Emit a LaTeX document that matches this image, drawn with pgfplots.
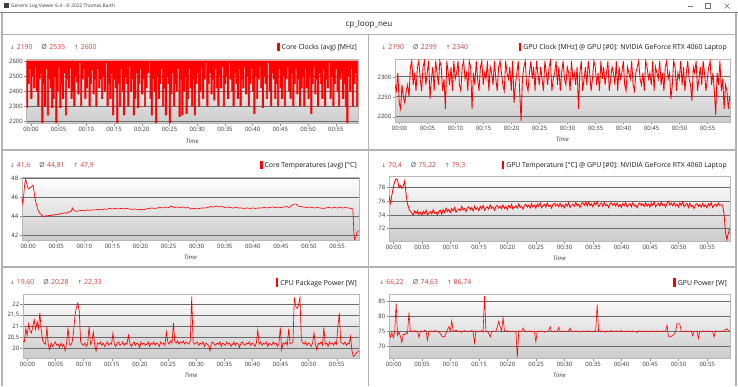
\documentclass[border=0pt]{standalone}
\usepackage{pgfplots}
\pgfplotsset{compat=1.18}
\usepackage{pgfplotstable}
\usepackage{fontspec}
\setmainfont{Open Sans}
\newfontfamily\sym{DejaVu Sans}
\definecolor{statred}{RGB}{214,58,58}
\definecolor{statgray}{RGB}{85,85,85}
\definecolor{sepgray}{RGB}{178,178,178}
\definecolor{plotred}{RGB}{255,0,0}

\newcommand{\st}[3]{{\sym\fontsize{5.5}{7}\selectfont\textcolor{statgray}{↓}}\hspace{2pt}\textcolor{statred}{#1}\hspace{9pt}\textcolor{statgray}{Ø}\hspace{2.5pt}\textcolor{statred}{#2}\hspace{9pt}{\sym\fontsize{5.5}{7}\selectfont\textcolor{statgray}{↑}}\hspace{2pt}\textcolor{statred}{#3}}
\newcommand{\lgd}[1]{\textcolor{plotred}{\rule[-1.8pt]{2.6pt}{8.6pt}}\hspace{2pt}#1}

\pgfplotsset{
 ser/.style={color=plotred, draw=plotred, line width=0.55pt, mark=none},
 panel/.style={
  scale only axis, anchor=north west,
  axis background/.style={shade, top color=white, bottom color=black!20},
  axis line style={draw=black!28, line width=0.6pt},
  ymajorgrids, grid style={draw=black!58, line width=0.9pt},
  xmin=-0.8, xmax=59,
  xtick={0,5,...,55},
  xticklabels={00:00,00:05,00:10,00:15,00:20,00:25,00:30,00:35,00:40,00:45,00:50,00:55},
  tick align=outside, tick pos=left, major tick length=2.5pt,
  tick style={draw=black!45, line width=0.5pt},
  ticklabel style={font=\fontsize{6}{7}\selectfont, text=black!80},
  xticklabel style={inner sep=1pt},
  yticklabel style={inner sep=1pt},
  xlabel={Time},
  xlabel style={font=\fontsize{6}{7}\selectfont\itshape, text=black!80, at={(axis description cs:0.5,0)}, anchor=north, yshift=-12pt},
 }
}

% core clock: lowest reading within each 15 s interval
\pgfplotstableread[row sep=\\]{
y\\
2290\\ 2450\\ 2550\\ 2350\\ 2500\\ 2420\\ 2560\\ 2400\\ 2300\\ 2480\\
2520\\ 2190\\ 2450\\ 2300\\ 2550\\ 2240\\ 2480\\ 2420\\ 2290\\ 2350\\
2500\\ 2190\\ 2400\\ 2560\\ 2290\\ 2450\\ 2350\\ 2520\\ 2240\\ 2480\\
2420\\ 2550\\ 2350\\ 2400\\ 2300\\ 2500\\ 2460\\ 2380\\ 2590\\ 2300\\
2480\\ 2550\\ 2350\\ 2420\\ 2500\\ 2300\\ 2450\\ 2540\\ 2380\\ 2480\\
2300\\ 2550\\ 2420\\ 2480\\ 2350\\ 2500\\ 2400\\ 2590\\ 2300\\ 2450\\
2350\\ 2520\\ 2240\\ 2480\\ 2420\\ 2190\\ 2450\\ 2300\\ 2550\\ 2400\\
2240\\ 2500\\ 2450\\ 2300\\ 2560\\ 2400\\ 2480\\ 2240\\ 2350\\ 2520\\
2290\\ 2450\\ 2550\\ 2380\\ 2480\\ 2300\\ 2420\\ 2520\\ 2590\\ 2350\\
2240\\ 2480\\ 2400\\ 2190\\ 2500\\ 2350\\ 2450\\ 2550\\ 2300\\ 2420\\
2240\\ 2500\\ 2450\\ 2190\\ 2380\\ 2520\\ 2300\\ 2450\\ 2400\\ 2550\\
2230\\ 2480\\ 2240\\ 2400\\ 2500\\ 2250\\ 2350\\ 2550\\ 2420\\ 2300\\
2480\\ 2240\\ 2450\\ 2520\\ 2300\\ 2400\\ 2560\\ 2350\\ 2480\\ 2590\\
2300\\ 2450\\ 2520\\ 2380\\ 2480\\ 2340\\ 2550\\ 2420\\ 2300\\ 2500\\
2420\\ 2560\\ 2300\\ 2450\\ 2500\\ 2350\\ 2590\\ 2480\\ 2400\\ 2300\\
2520\\ 2450\\ 2350\\ 2550\\ 2300\\ 2480\\ 2420\\ 2560\\ 2380\\ 2500\\
2300\\ 2450\\ 2550\\ 2400\\ 2250\\ 2500\\ 2350\\ 2480\\ 2560\\ 2420\\
2290\\ 2500\\ 2450\\ 2350\\ 2590\\ 2400\\ 2300\\ 2520\\ 2480\\ 2350\\
2450\\ 2300\\ 2550\\ 2420\\ 2350\\ 2500\\ 2300\\ 2480\\ 2560\\ 2400\\
2350\\ 2520\\ 2300\\ 2450\\ 2550\\ 2380\\ 2480\\ 2300\\ 2420\\ 2500\\
2300\\ 2550\\ 2420\\ 2350\\ 2500\\ 2250\\ 2450\\ 2560\\ 2380\\ 2480\\
2300\\ 2520\\ 2450\\ 2350\\ 2550\\ 2300\\ 2480\\ 2420\\ 2590\\ 2350\\
2500\\ 2300\\ 2450\\ 2550\\ 2400\\ 2300\\ 2480\\ 2520\\ 2350\\ 2450\\
2300\\ 2190\\ 2500\\ 2400\\ 2550\\ 2300\\ 2450\\ 2520\\ 2300\\ 2480\\
}\coreclk

\pgfplotstableread[row sep=\\]{
y\\
2280\\ 2265\\ 2310\\ 2235\\ 2220\\ 2280\\ 2250\\ 2235\\ 2265\\ 2280\\
2250\\ 2325\\ 2340\\ 2280\\ 2310\\ 2265\\ 2325\\ 2340\\ 2295\\ 2265\\
2325\\ 2340\\ 2280\\ 2310\\ 2340\\ 2245\\ 2295\\ 2325\\ 2265\\ 2340\\
2310\\ 2280\\ 2340\\ 2325\\ 2265\\ 2295\\ 2220\\ 2340\\ 2310\\ 2280\\
2325\\ 2265\\ 2340\\ 2295\\ 2310\\ 2340\\ 2280\\ 2265\\ 2325\\ 2340\\
2295\\ 2310\\ 2265\\ 2340\\ 2325\\ 2220\\ 2310\\ 2280\\ 2340\\ 2295\\
2265\\ 2325\\ 2340\\ 2280\\ 2310\\ 2295\\ 2340\\ 2265\\ 2325\\ 2310\\
2280\\ 2340\\ 2295\\ 2265\\ 2325\\ 2340\\ 2310\\ 2280\\ 2265\\ 2340\\
2310\\ 2295\\ 2325\\ 2265\\ 2340\\ 2235\\ 2280\\ 2310\\ 2340\\ 2265\\
2190\\ 2295\\ 2325\\ 2340\\ 2280\\ 2265\\ 2310\\ 2340\\ 2295\\ 2325\\
2265\\ 2340\\ 2310\\ 2280\\ 2325\\ 2295\\ 2265\\ 2340\\ 2310\\ 2280\\
2325\\ 2340\\ 2265\\ 2295\\ 2310\\ 2340\\ 2280\\ 2325\\ 2265\\ 2310\\
2340\\ 2295\\ 2280\\ 2325\\ 2310\\ 2265\\ 2340\\ 2295\\ 2310\\ 2280\\
2325\\ 2220\\ 2310\\ 2340\\ 2265\\ 2295\\ 2325\\ 2280\\ 2340\\ 2310\\
2265\\ 2295\\ 2340\\ 2325\\ 2280\\ 2310\\ 2265\\ 2340\\ 2295\\ 2325\\
2280\\ 2310\\ 2340\\ 2265\\ 2295\\ 2325\\ 2310\\ 2280\\ 2340\\ 2265\\
2325\\ 2295\\ 2310\\ 2340\\ 2280\\ 2265\\ 2325\\ 2310\\ 2295\\ 2340\\
2280\\ 2265\\ 2310\\ 2325\\ 2340\\ 2295\\ 2280\\ 2310\\ 2265\\ 2340\\
2325\\ 2295\\ 2310\\ 2280\\ 2340\\ 2265\\ 2325\\ 2310\\ 2295\\ 2340\\
2280\\ 2310\\ 2265\\ 2325\\ 2340\\ 2295\\ 2310\\ 2245\\ 2280\\ 2340\\
2325\\ 2265\\ 2310\\ 2295\\ 2340\\ 2280\\ 2325\\ 2265\\ 2310\\ 2340\\
2295\\ 2280\\ 2240\\ 2325\\ 2310\\ 2340\\ 2265\\ 2295\\ 2325\\ 2280\\
2340\\ 2310\\ 2265\\ 2295\\ 2325\\ 2340\\ 2280\\ 2310\\ 2265\\ 2205\\
2310\\ 2280\\ 2340\\ 2265\\ 2295\\ 2220\\ 2280\\ 2265\\ 2220\\ 2250\\
}\gpuclk

\pgfplotstableread[row sep=\\]{
y\\
76.8\\ 75.7\\ 76.9\\ 78.0\\ 78.9\\ 79.3\\ 79.1\\ 78.0\\ 78.3\\ 77.9\\
78.2\\ 79.0\\ 77.0\\ 75.6\\ 74.9\\ 74.5\\ 74.3\\ 74.0\\ 74.6\\ 74.2\\
74.6\\ 74.1\\ 74.4\\ 73.95\\ 74.55\\ 74.2\\ 74.7\\ 74.0\\ 74.3\\ 74.5\\
74.15\\ 74.75\\ 74.25\\ 74.45\\ 74.0\\ 74.55\\ 74.7\\ 74.1\\ 74.8\\ 74.35\\
75.0\\ 74.5\\ 74.8\\ 74.35\\ 74.95\\ 74.6\\ 75.1\\ 74.4\\ 74.7\\ 74.9\\
74.65\\ 75.25\\ 74.75\\ 74.95\\ 74.5\\ 75.05\\ 75.2\\ 74.8\\ 75.1\\ 74.6\\
75.3\\ 74.8\\ 75.1\\ 74.65\\ 75.25\\ 74.9\\ 75.4\\ 74.7\\ 75.0\\ 75.2\\
74.85\\ 75.45\\ 74.95\\ 75.15\\ 74.7\\ 75.25\\ 75.4\\ 75.0\\ 75.3\\ 74.9\\
75.45\\ 74.95\\ 75.25\\ 74.8\\ 75.4\\ 75.05\\ 75.55\\ 74.85\\ 75.15\\ 75.35\\
75.0\\ 75.6\\ 75.1\\ 75.3\\ 74.85\\ 75.4\\ 75.55\\ 75.15\\ 75.45\\ 75.05\\
75.65\\ 75.15\\ 75.45\\ 75.0\\ 75.6\\ 75.25\\ 75.75\\ 75.05\\ 75.35\\ 75.55\\
75.15\\ 75.75\\ 75.25\\ 75.45\\ 75.0\\ 75.55\\ 75.7\\ 75.3\\ 75.6\\ 75.2\\
75.7\\ 75.2\\ 75.5\\ 75.05\\ 75.65\\ 75.3\\ 75.8\\ 75.1\\ 75.4\\ 75.6\\
75.25\\ 75.85\\ 75.35\\ 75.55\\ 75.1\\ 75.65\\ 75.8\\ 75.4\\ 75.9\\ 75.3\\
75.85\\ 75.35\\ 75.65\\ 75.2\\ 75.8\\ 75.45\\ 75.95\\ 75.25\\ 75.55\\ 75.75\\
75.25\\ 75.85\\ 75.35\\ 75.55\\ 75.1\\ 75.65\\ 75.8\\ 75.4\\ 75.7\\ 75.3\\
75.75\\ 75.25\\ 75.55\\ 75.1\\ 75.7\\ 75.35\\ 75.85\\ 75.15\\ 75.45\\ 75.65\\
75.2\\ 75.8\\ 75.3\\ 75.5\\ 75.05\\ 75.6\\ 75.75\\ 75.35\\ 75.65\\ 75.25\\
75.8\\ 75.3\\ 75.6\\ 75.15\\ 75.75\\ 75.4\\ 75.9\\ 75.2\\ 75.5\\ 75.7\\
75.3\\ 75.9\\ 75.4\\ 75.6\\ 75.15\\ 75.7\\ 76.0\\ 75.45\\ 75.75\\ 75.35\\
75.8\\ 75.3\\ 75.6\\ 75.15\\ 75.75\\ 75.4\\ 75.9\\ 75.2\\ 75.5\\ 75.7\\
75.1\\ 75.7\\ 75.2\\ 75.4\\ 74.95\\ 75.5\\ 75.65\\ 75.25\\ 75.55\\ 75.15\\
75.7\\ 75.2\\ 75.5\\ 75.05\\ 75.65\\ 75.3\\ 75.8\\ 75.1\\ 75.4\\ 75.6\\
75.25\\ 75.75\\ 75.4\\ 75.5\\ 75.4\\ 74.2\\ 71.5\\ 70.4\\ 71.3\\ 72.0\\
}\gputemp

\pgfplotstableread[row sep=\\]{
y\\
20.35\\ 20.3\\ 20.9\\ 20.6\\ 21.1\\ 20.8\\ 20.7\\ 21.0\\ 21.3\\ 20.85\\
21.2\\ 20.9\\ 21.6\\ 20.8\\ 20.35\\ 20.25\\ 20.2\\ 21.0\\ 20.15\\ 19.95\\
20.25\\ 20.1\\ 20.2\\ 20.3\\ 20.15\\ 20.2\\ 20.05\\ 20.25\\ 20.1\\ 20.2\\
19.9\\ 20.25\\ 20.95\\ 20.2\\ 20.15\\ 20.3\\ 20.8\\ 21.5\\ 21.85\\ 22.05\\
21.7\\ 20.3\\ 20.2\\ 20.15\\ 20.25\\ 20.1\\ 20.2\\ 21.0\\ 20.2\\ 20.3\\
20.75\\ 20.15\\ 19.9\\ 20.25\\ 20.2\\ 20.3\\ 20.15\\ 20.25\\ 20.1\\ 20.2\\
20.3\\ 20.15\\ 20.25\\ 20.2\\ 20.7\\ 20.2\\ 20.1\\ 20.25\\ 20.3\\ 20.15\\
20.2\\ 20.3\\ 20.15\\ 20.25\\ 20.2\\ 20.6\\ 20.25\\ 20.1\\ 20.2\\ 20.3\\
20.15\\ 20.25\\ 20.2\\ 20.05\\ 20.3\\ 20.2\\ 20.25\\ 20.15\\ 20.2\\ 20.3\\
20.1\\ 20.25\\ 20.2\\ 20.3\\ 20.15\\ 20.25\\ 20.2\\ 20.1\\ 20.3\\ 20.2\\
20.25\\ 20.15\\ 20.75\\ 20.3\\ 20.2\\ 20.35\\ 20.25\\ 21.15\\ 20.3\\ 20.25\\
20.35\\ 20.2\\ 20.3\\ 20.25\\ 20.35\\ 20.2\\ 20.3\\ 20.25\\ 20.2\\ 20.35\\
22.33\\ 20.3\\ 20.2\\ 20.25\\ 20.3\\ 20.15\\ 20.25\\ 20.2\\ 20.3\\ 20.1\\
20.25\\ 20.2\\ 20.15\\ 19.9\\ 20.25\\ 20.3\\ 20.2\\ 20.15\\ 20.25\\ 20.2\\
20.3\\ 20.1\\ 20.25\\ 20.2\\ 20.15\\ 20.3\\ 20.2\\ 20.25\\ 20.1\\ 20.2\\
20.3\\ 20.15\\ 20.25\\ 20.2\\ 20.05\\ 20.25\\ 20.3\\ 20.2\\ 20.15\\ 20.25\\
20.2\\ 20.3\\ 20.15\\ 20.25\\ 20.2\\ 20.1\\ 20.25\\ 20.85\\ 20.2\\ 20.3\\
20.15\\ 20.25\\ 20.2\\ 20.3\\ 20.1\\ 20.25\\ 20.2\\ 20.15\\ 20.3\\ 20.2\\
20.25\\ 20.1\\ 20.2\\ 20.95\\ 19.95\\ 20.25\\ 20.2\\ 20.3\\ 20.15\\ 20.9\\
20.2\\ 20.25\\ 20.3\\ 22.3\\ 21.9\\ 21.8\\ 21.95\\ 22.3\\ 20.4\\ 20.25\\
20.2\\ 20.3\\ 20.15\\ 20.25\\ 20.2\\ 20.1\\ 20.25\\ 20.7\\ 20.2\\ 19.95\\
20.25\\ 20.2\\ 20.3\\ 20.15\\ 20.95\\ 20.2\\ 20.25\\ 20.1\\ 20.3\\ 20.2\\
20.25\\ 20.15\\ 20.3\\ 20.2\\ 21.0\\ 21.6\\ 20.3\\ 20.25\\ 20.2\\ 20.3\\
20.15\\ 20.25\\ 20.2\\ 20.55\\ 19.9\\ 19.65\\ 19.7\\ 19.8\\ 19.85\\ 19.9\\
}\cpupow

\pgfplotstableread[row sep=\\]{
y\\
74.8\\ 73.0\\ 74.5\\ 72.8\\ 74.6\\ 84.5\\ 73.5\\ 74.8\\ 73.2\\ 71.2\\
74.0\\ 73.8\\ 74.5\\ 74.2\\ 81.3\\ 74.9\\ 75.1\\ 74.8\\ 75.2\\ 74.9\\
75.0\\ 72.8\\ 74.9\\ 75.1\\ 74.8\\ 75.3\\ 75.0\\ 72.0\\ 74.9\\ 75.1\\
75.0\\ 74.8\\ 75.2\\ 74.9\\ 75.1\\ 74.7\\ 74.2\\ 73.3\\ 73.0\\ 73.2\\
74.3\\ 75.5\\ 76.5\\ 75.0\\ 78.5\\ 75.2\\ 74.9\\ 75.3\\ 75.0\\ 74.8\\
75.1\\ 74.6\\ 75.0\\ 75.2\\ 74.9\\ 75.1\\ 74.8\\ 75.0\\ 75.2\\ 74.9\\
71.0\\ 75.1\\ 74.8\\ 75.0\\ 74.9\\ 75.2\\ 74.7\\ 86.74\\ 74.9\\ 75.0\\
74.2\\ 73.0\\ 74.8\\ 75.1\\ 74.9\\ 75.0\\ 76.5\\ 78.3\\ 76.5\\ 75.0\\
79.5\\ 75.1\\ 74.9\\ 75.2\\ 74.8\\ 75.0\\ 74.9\\ 75.1\\ 74.8\\ 75.0\\
66.22\\ 75.1\\ 74.9\\ 75.0\\ 76.0\\ 75.2\\ 74.8\\ 75.0\\ 74.9\\ 75.1\\
74.8\\ 75.0\\ 74.9\\ 71.5\\ 75.0\\ 74.8\\ 75.1\\ 74.9\\ 75.0\\ 74.6\\
75.0\\ 74.9\\ 75.1\\ 76.5\\ 75.0\\ 74.8\\ 75.1\\ 74.9\\ 75.0\\ 76.3\\
74.9\\ 75.0\\ 75.1\\ 74.8\\ 75.0\\ 74.9\\ 75.1\\ 76.0\\ 74.9\\ 75.0\\
74.8\\ 75.1\\ 74.9\\ 75.0\\ 74.7\\ 75.0\\ 75.1\\ 74.9\\ 75.0\\ 74.8\\
75.1\\ 74.9\\ 75.0\\ 74.8\\ 75.1\\ 74.9\\ 84.0\\ 75.0\\ 74.8\\ 75.1\\
74.9\\ 75.0\\ 74.6\\ 75.1\\ 74.9\\ 75.0\\ 75.2\\ 74.8\\ 75.0\\ 74.9\\
75.1\\ 74.8\\ 75.0\\ 75.2\\ 74.9\\ 75.0\\ 74.8\\ 75.1\\ 74.9\\ 75.0\\
74.8\\ 75.1\\ 74.9\\ 75.0\\ 74.5\\ 75.0\\ 75.1\\ 74.9\\ 75.0\\ 74.8\\
75.1\\ 74.9\\ 75.0\\ 74.8\\ 75.1\\ 74.9\\ 75.0\\ 74.8\\ 75.1\\ 74.9\\
75.0\\ 74.8\\ 75.1\\ 74.9\\ 75.0\\ 77.0\\ 73.3\\ 73.0\\ 73.2\\ 73.5\\
74.0\\ 74.8\\ 77.5\\ 77.5\\ 77.3\\ 74.9\\ 75.0\\ 74.8\\ 75.1\\ 74.9\\
75.0\\ 74.8\\ 75.1\\ 73.5\\ 75.0\\ 74.9\\ 75.1\\ 72.5\\ 75.0\\ 74.8\\
75.1\\ 74.9\\ 75.0\\ 74.8\\ 75.1\\ 74.9\\ 75.0\\ 74.8\\ 73.0\\ 75.1\\
74.9\\ 75.0\\ 74.8\\ 75.1\\ 75.0\\ 74.9\\ 75.5\\ 75.8\\ 75.3\\ 75.0\\
}\gpupow

\begin{document}
\begin{tikzpicture}
\useasboundingbox (0,0) rectangle (738pt,386pt);
\fill[white] (0,0) rectangle (738pt,386pt);

% window chrome
\fill[black!75] (3.5pt,378pt) rectangle (8.5pt,383pt);
\fill[green!40!black] (4.5pt,379pt) rectangle (7.5pt,381pt);
\node[anchor=west, inner sep=0pt, font=\fontsize{4.8}{6}\selectfont, text=black!80] at (11pt,379.8pt) {Generic Log Viewer 6.4 - © 2022 Thomas Barth};
\draw[black!55, line width=0.5pt] (687.5pt,380pt) -- (692.5pt,380pt);
\draw[black!55, line width=0.5pt] (705.5pt,377.5pt) rectangle (710.5pt,382.5pt);
\draw[black!55, line width=0.5pt] (724.5pt,377.5pt) -- (729.5pt,382.5pt) (724.5pt,382.5pt) -- (729.5pt,377.5pt);
\draw[black!50, line width=1pt] (0,373pt) -- (738pt,373pt);
\node[font=\fontsize{8}{9}\selectfont, text=black!88] at (369pt,361.5pt) {cp\_loop\_neu};
\draw[sepgray, line width=1.2pt] (2pt,351.7pt) -- (736pt,351.7pt);
\draw[sepgray, line width=1.2pt] (2pt,0pt) -- (2pt,373pt);
\draw[sepgray, line width=1.2pt] (736pt,0pt) -- (736pt,373pt);
\draw[sepgray, line width=1.2pt] (368.7pt,0pt) -- (368.7pt,351.7pt);
\draw[sepgray, line width=1.2pt] (2pt,236pt) -- (736pt,236pt);
\draw[sepgray, line width=1.2pt] (2pt,119pt) -- (736pt,119pt);

% stats and legends
\begin{scope}[every node/.style={inner sep=0pt, font=\fontsize{6.9}{8}\selectfont}]
\node[anchor=west] at (10pt,339pt) {\st{2190}{2535}{2600}};
\node[anchor=west] at (381.5pt,339pt) {\st{2190}{2299}{2340}};
\node[anchor=west] at (10pt,221pt) {\st{41,6}{44,81}{47,9}};
\node[anchor=west] at (381.5pt,221pt) {\st{70,4}{75,22}{79,3}};
\node[anchor=west] at (10pt,103.3pt) {\st{19,60}{20,28}{22,33}};
\node[anchor=west] at (379.5pt,103.3pt) {\st{66,22}{74,63}{86,74}};
\node[anchor=east, text=black!90] at (357pt,339pt) {\lgd{Core Clocks (avg) [MHz]}};
\node[anchor=east, text=black!90] at (727pt,339pt) {\lgd{GPU Clock [MHz] @ GPU [\#0]: NVIDIA GeForce RTX 4060 Laptop}};
\node[anchor=east, text=black!90] at (357pt,221pt) {\lgd{Core Temperatures (avg) [°C]}};
\node[anchor=east, text=black!90] at (727pt,221pt) {\lgd{GPU Temperature [°C] @ GPU [\#0]: NVIDIA GeForce RTX 4060 Laptop}};
\node[anchor=east, text=black!90] at (357pt,103.3pt) {\lgd{CPU Package Power [W]}};
\node[anchor=east, text=black!90] at (727pt,103.3pt) {\lgd{GPU Power [W]}};
\end{scope}

% Core clocks
\begin{axis}[panel, at={(26.5pt,326.5pt)}, width=331.5pt, height=64pt,
  ymin=2183, ymax=2610, ytick={2200,2300,2400,2500,2600},
  yticklabels={2200,2300,2400,2500,2600}]
\addplot[const plot, color=plotred, draw=plotred, line width=0.6pt, fill=plotred, mark=none]
  table[x expr=-0.8+0.25*\coordindex, y=y] {\coreclk}
  -- (axis cs:58.95,2600) -- (axis cs:-0.8,2600) -- cycle;
\end{axis}

% GPU clock
\begin{axis}[panel, at={(395pt,327pt)}, width=335pt, height=63pt,
  ymin=2187, ymax=2345, ytick={2200,2250,2300},
  yticklabels={2200,2250,2300}]
\addplot[ser, line width=0.85pt] table[x expr=-0.8+0.25*\coordindex, y=y] {\gpuclk};
\end{axis}

% Core temperatures
\begin{axis}[panel, at={(22pt,209pt)}, width=337pt, height=63pt,
  xmin=-1.1, xmax=58.9,
  ymin=41.55, ymax=48.14, ytick={42,44,46,48}, yticklabels={42,44,46,48}]
\addplot[ser, line width=0.65pt] coordinates {(-1.1,46.0) (-0.95,45.3) (-0.8,46.2) (-0.6,47.5) (-0.45,47.9) (-0.3,47.6) (-0.1,47.1) (0.1,46.9) (0.3,47.0) (0.5,47.1) (0.7,47.2) (0.85,47.3) (1.0,46.8) (1.2,46.0) (1.4,45.4) (1.6,45.0) (1.8,44.6) (2.0,44.4) (2.3,44.2) (2.6,44.05) (2.9,44.0) (3.2,44.1) (3.5,44.05) (3.8,44.15) (4.1,44.1) (4.4,44.2) (4.7,44.15) (5.0,44.25) (5.3,44.2) (5.6,44.3) (5.9,44.3) (6.2,44.35) (6.5,44.4) (6.8,44.35) (7.1,44.5) (7.4,44.45) (7.7,44.6) (7.85,44.9) (8.0,44.7) (8.3,44.6) (8.6,44.55) (9.0,44.6) (9.5,44.65) (10.0,44.6) (10.5,44.7) (11,44.65) (11.5,44.7) (12,44.7) (12.5,44.75) (13,44.7) (13.5,44.8) (14,44.75) (14.5,44.85) (15,44.8) (15.5,44.85) (16,44.8) (16.5,44.85) (17,44.8) (17.5,44.85) (18,44.8) (18.5,44.75) (19,44.8) (19.5,44.7) (20,44.75) (20.5,44.7) (21,44.8) (21.5,44.85) (22,44.9) (22.5,44.85) (23,44.9) (23.5,44.95) (24,44.9) (24.5,45.0) (25,44.95) (25.5,45.1) (26,44.95) (26.5,45.0) (27,44.95) (27.5,45.0) (28,44.9) (28.5,44.95) (29,44.8) (29.5,44.85) (30,44.8) (30.5,44.85) (31,44.9) (31.5,44.9) (32,44.95) (32.5,45.05) (33,45.0) (33.5,45.1) (34,45.0) (34.5,45.05) (35,44.95) (35.5,45.0) (36,44.95) (36.5,44.9) (37,44.95) (37.5,44.9) (38,44.9) (38.5,44.85) (39,44.9) (39.5,44.85) (40,44.9) (40.5,44.85) (41,44.9) (41.5,44.9) (42,44.95) (42.5,44.9) (43,44.95) (43.5,45.0) (44,44.95) (44.5,45.0) (45,44.95) (45.5,45.0) (46,45.05) (46.5,44.95) (47,45.2) (47.3,45.3) (47.7,45.3) (48.0,45.1) (48.5,45.05) (49,45.0) (49.5,44.95) (50,45.0) (50.5,44.95) (51,44.9) (51.5,44.95) (52,44.9) (52.5,44.85) (53,44.9) (53.5,44.95) (54,44.9) (54.5,44.95) (55,44.9) (55.5,44.95) (56,44.9) (56.5,44.95) (57,44.9) (57.5,44.85) (57.8,44.8) (58.0,42.2) (58.1,41.6) (58.3,41.8) (58.5,42.3) (58.8,42.5)};
\end{axis}

% GPU temperature
\begin{axis}[panel, at={(389pt,210pt)}, width=341pt, height=65pt,
  ymin=70.2, ymax=79.7, ytick={72,74,76,78}, yticklabels={72,74,76,78}]
\addplot[ser, line width=0.8pt] table[x expr=-0.8+0.25*\coordindex, y=y] {\gputemp};
\end{axis}

% CPU package power
\begin{axis}[panel, at={(23pt,92pt)}, width=336pt, height=64pt,
  xmax=58.95,
  ymin=19.58, ymax=22.45, ytick={20,20.5,21,21.5,22},
  yticklabels={20,{20,5},21,{21,5},22}]
\addplot[ser, line width=0.65pt] table[x expr=-0.8+0.25*\coordindex, y=y] {\cpupow};
\end{axis}

% GPU power
\begin{axis}[panel, at={(389pt,92pt)}, width=341pt, height=64pt,
  ymin=66.0, ymax=87.45, ytick={70,75,80,85}, yticklabels={70,75,80,85}]
\addplot[ser, line width=0.6pt] table[x expr=-0.8+0.25*\coordindex, y=y] {\gpupow};
\end{axis}
\end{tikzpicture}
\end{document}
